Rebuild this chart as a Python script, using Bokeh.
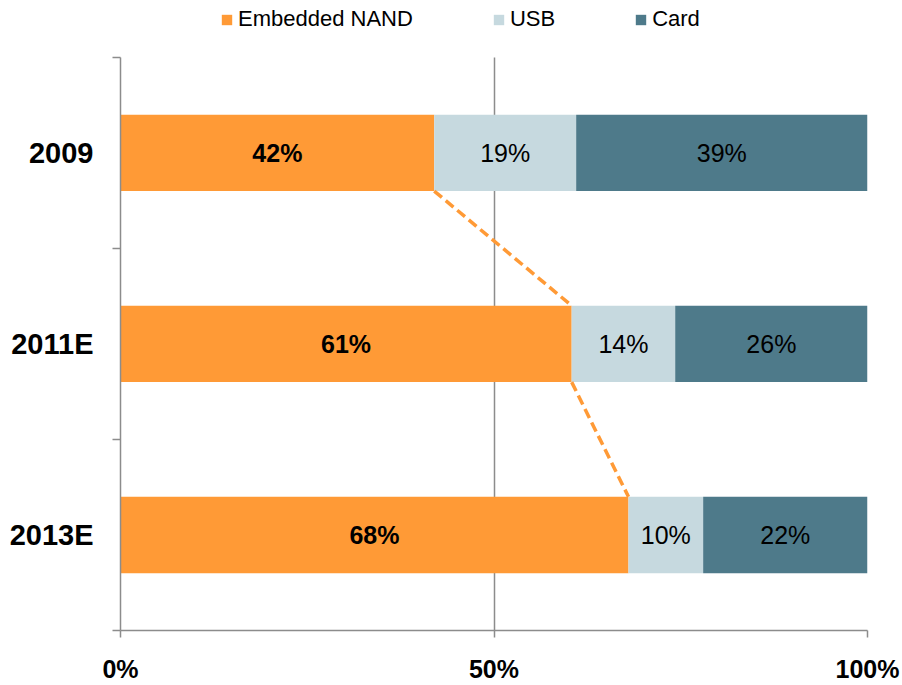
from bokeh.plotting import figure
from bokeh.models import (ColumnDataSource, Range1d, LinearAxis, FixedTicker,
                          Grid, Legend, LegendItem)
from bokeh.core.properties import value
from bokeh.embed import file_html
from bokeh.resources import INLINE

# Flash NAND demand by application, share of units
years = ["2009", "2011E", "2013E"]
embedded = [42, 61, 68]
usb = [19, 14, 10]
card = [39, 26, 22]
series_names = ["Embedded NAND", "USB", "Card"]
colors = ["#FF9A36", "#C6D9DF", "#4E7A8A"]
x_ticks = [0, 50, 100]
x_tick_labels = ["0%", "50%", "100%"]

FONT = "Liberation Sans"
GRAY = "#8C8C8C"

n = len(years)
# rows from top to bottom, one unit per year
row_y = [n - i - 0.5 for i in range(n)]
# head room above the rows for the legend (57 px over 575 px of rows)
top_pad = n * 57 / 575

# 100% stacked: normalise each year to its own total
totals = [a + b + c for a, b, c in zip(embedded, usb, card)]
emb_n = [a / t * 100 for a, t in zip(embedded, totals)]
usb_n = [b / t * 100 for b, t in zip(usb, totals)]
card_n = [c / t * 100 for c, t in zip(card, totals)]

src = ColumnDataSource(dict(
    y=row_y,
    emb=emb_n, usb=usb_n, card=card_n,
    emb_mid=[e / 2 for e in emb_n],
    usb_mid=[e + u / 2 for e, u in zip(emb_n, usb_n)],
    card_mid=[e + u + c / 2 for e, u, c in zip(emb_n, usb_n, card_n)],
    emb_lbl=[f"{v}%" for v in embedded],
    usb_lbl=[f"{v}%" for v in usb],
    card_lbl=[f"{v}%" for v in card],
))

p = figure(width=902, height=685,
           y_range=Range1d(0, n + top_pad), x_range=Range1d(0, 100),
           x_axis_location=None, y_axis_location=None,
           output_backend="svg", toolbar_location=None,
           min_border_left=120, min_border_right=35,
           min_border_top=0, min_border_bottom=53)
p.outline_line_color = None
p.background_fill_color = "white"
for g in p.grid:
    g.visible = False

# vertical gridlines at the percentage ticks, only over the rows
p.add_layout(Grid(dimension=0, ticker=FixedTicker(ticks=x_ticks),
                  cross_bounds=(0, n),
                  grid_line_color=GRAY, grid_line_width=1.5))

bar_h = 0.4
rs = p.hbar_stack(["emb", "usb", "card"], y="y", height=bar_h,
                  color=colors, line_color=None, source=src)

# segment labels
common = dict(source=src, text_align="center", text_baseline="middle",
              text_font=value(FONT), text_font_size="25px", text_color="black")
p.text(x="emb_mid", y="y", text="emb_lbl", text_font_style="bold", **common)
p.text(x="usb_mid", y="y", text="usb_lbl", **common)
p.text(x="card_mid", y="y", text="card_lbl", **common)

# dashed connectors between the ends of the embedded segments
p.segment(x0=emb_n[:-1], y0=[y - bar_h / 2 for y in row_y[:-1]],
          x1=emb_n[1:], y1=[y + bar_h / 2 for y in row_y[1:]],
          line_color=colors[0], line_width=3.5, line_dash="10 5")

# left side: boundary ticks, then the year names outside them
edge_axis = LinearAxis(ticker=FixedTicker(ticks=list(range(n + 1))),
                       bounds=(0, n),
                       major_label_overrides={i: "" for i in range(n + 1)},
                       axis_line_color=GRAY, axis_line_width=1.5,
                       major_tick_line_color=GRAY, major_tick_line_width=1.5,
                       major_tick_out=8, major_tick_in=0,
                       minor_tick_line_color=None, major_label_standoff=0)
p.add_layout(edge_axis, "left")

year_axis = LinearAxis(ticker=FixedTicker(ticks=row_y),
                       major_label_overrides=dict(zip(row_y, years)),
                       axis_line_color=None, major_tick_line_color=None,
                       minor_tick_line_color=None,
                       major_label_text_font=FONT,
                       major_label_text_font_size="29px",
                       major_label_text_font_style="bold",
                       major_label_text_color="black",
                       major_label_standoff=13)
p.add_layout(year_axis, "left")

x_axis = LinearAxis(ticker=FixedTicker(ticks=x_ticks),
                    major_label_overrides=dict(zip(x_ticks, x_tick_labels)),
                    axis_line_color=GRAY, axis_line_width=1.5,
                    major_tick_line_color=GRAY, major_tick_line_width=1.5,
                    major_tick_out=7, major_tick_in=0,
                    minor_tick_line_color=None,
                    major_label_text_font=FONT,
                    major_label_text_font_size="25px",
                    major_label_text_font_style="bold",
                    major_label_text_color="black",
                    major_label_standoff=17)
p.add_layout(x_axis, "below")

legend = Legend(items=[LegendItem(label=nm, renderers=[r])
                       for nm, r in zip(series_names, rs)],
                orientation="horizontal", location=(100, 598),
                glyph_width=13, glyph_height=13, label_standoff=5,
                spacing=79, padding=0, margin=0,
                label_text_font=FONT, label_text_font_size="22px",
                label_text_color="black",
                border_line_color=None, background_fill_alpha=0)
p.add_layout(legend, "center")

open("out.html", "w").write(file_html(p, INLINE))
